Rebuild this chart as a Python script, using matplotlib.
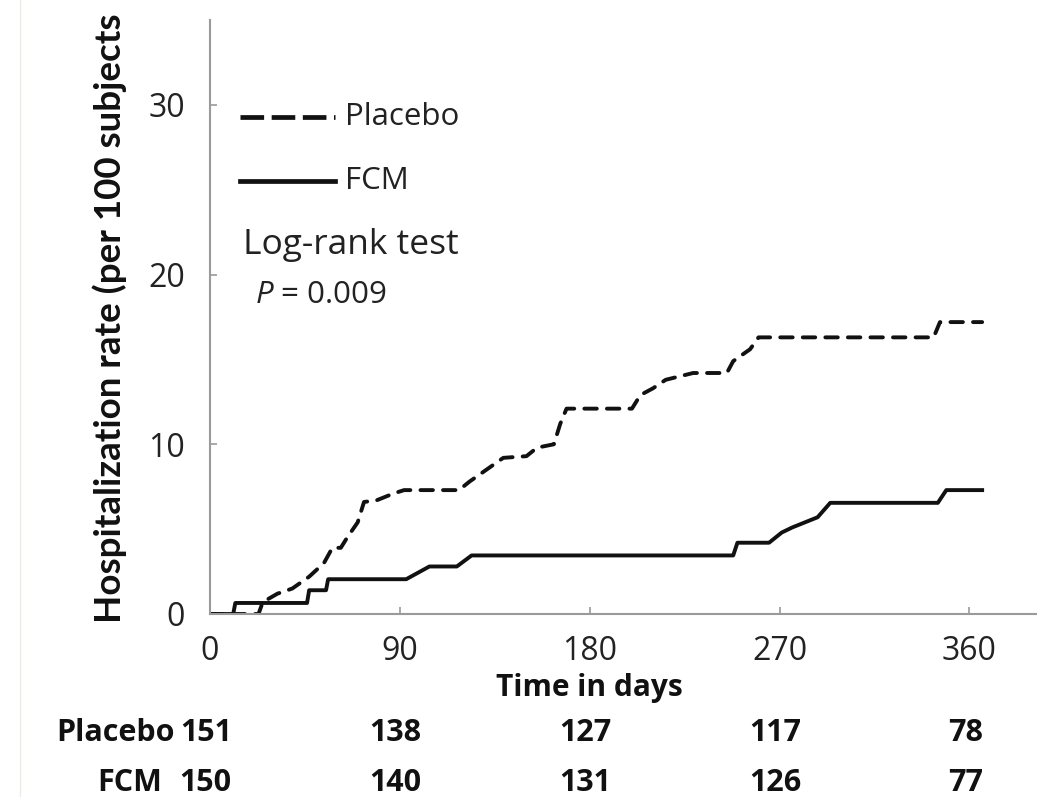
import numpy as np
import matplotlib
matplotlib.use("Agg")
import matplotlib.pyplot as plt
import matplotlib.transforms as mtransforms
from matplotlib.lines import Line2D

plt.rcParams['font.family'] = ['Open Sans', 'DejaVu Sans']
plt.rcParams['mathtext.fontset'] = 'custom'
plt.rcParams['mathtext.it'] = 'Open Sans:italic'
plt.rcParams['mathtext.rm'] = 'Open Sans'

# cumulative hospitalization rate (day, rate per 100)
placebo_days = [0, 23, 25, 32, 39, 47, 54, 58, 62, 65, 70, 73, 79, 87, 92, 118, 123, 131,
                139, 150, 155, 163, 166, 169, 200, 204, 210, 216, 229, 245, 248, 256, 260,
                343, 346, 366]
placebo_rate = [0, 0, 0.7, 1.2, 1.5, 2.2, 3.0, 3.9, 3.9, 4.5, 5.4, 6.6, 6.7, 7.1, 7.3, 7.3,
                7.8, 8.5, 9.2, 9.3, 9.8, 10.0, 11.2, 12.1, 12.1, 12.9, 13.3, 13.8, 14.2, 14.2,
                14.9, 15.6, 16.3, 16.3, 17.2, 17.2]

fcm_days = [0, 11, 12, 46, 47, 55, 56, 93, 104, 117, 124, 248, 250, 265, 271, 276, 288,
            294, 345, 349, 366]
fcm_rate = [0, 0, 0.65, 0.65, 1.4, 1.4, 2.05, 2.05, 2.8, 2.8, 3.45, 3.45, 4.2, 4.2, 4.8,
            5.1, 5.7, 6.55, 6.55, 7.3, 7.3]

x_ticks = [0, 90, 180, 270, 360]
y_ticks = [0, 10, 20, 30]
at_risk_placebo = [151, 138, 127, 117, 78]
at_risk_fcm = [150, 140, 131, 126, 77]

ink = '#111111'
txt = '#222222'
axis_grey = '#9a9a9a'

fig = plt.figure(figsize=(10.37, 7.97), dpi=100)
ax = fig.add_axes([210/1037, (797-614)/797, (1037-210)/1037, (614-20)/797])

ax.plot(placebo_days, placebo_rate, color=ink, lw=2.8, linestyle=(0, (3.2, 2.6)),
        dash_capstyle='round', solid_joinstyle='round')
ax.plot(fcm_days, fcm_rate, color=ink, lw=2.8, solid_joinstyle='round')

ax.set_xlim(0, 392)
ax.set_ylim(0, 35)
ax.set_xticks(x_ticks)
ax.set_yticks(y_ticks)
ax.tick_params(axis='both', direction='in', length=5, width=1.2, color=axis_grey,
               labelsize=23, labelcolor=txt)
ax.tick_params(axis='x', pad=15)
ax.tick_params(axis='y', pad=18)
for side in ['top', 'right']:
    ax.spines[side].set_visible(False)
for side in ['left', 'bottom']:
    ax.spines[side].set_color(axis_grey)
    ax.spines[side].set_linewidth(1.5)

# legend drawn by hand, like the original
ax.add_line(Line2D([0.036, 0.151], [0.837, 0.837], transform=ax.transAxes, color=ink,
                   lw=3.4, linestyle=(0, (5.0, 1.6))))
ax.add_line(Line2D([0.036, 0.151], [0.729, 0.729], transform=ax.transAxes, color=ink, lw=3.4))
ax.text(0.163, 0.837, 'Placebo', transform=ax.transAxes, fontsize=22.5, va='center', color=txt)
ax.text(0.163, 0.729, 'FCM', transform=ax.transAxes, fontsize=22.5, va='center', color=txt)
ax.text(0.040, 0.621, 'Log-rank test', transform=ax.transAxes, fontsize=25.5, va='center', color=txt)
ax.text(0.054, 0.537, r'$\it{P}$ = 0.009', transform=ax.transAxes, fontsize=22.5, va='center', color=txt)

# axis titles
blend = mtransforms.blended_transform_factory(ax.transData, ax.transAxes)
ax.text(180, -0.125, 'Time in days', transform=blend, ha='center', va='center',
        fontsize=21.5, fontweight='bold', color=ink)
fig.text(110/1037, 1 - 623/797, 'Hospitalization rate (per 100 subjects', rotation=90,
         ha='center', va='bottom', fontsize=26.5, fontweight='bold', color=ink,
         family=['Lato', 'DejaVu Sans'])

# number at risk table
ax.text(-16.5, -0.200, 'Placebo', transform=blend, ha='right', va='center',
        fontsize=22, fontweight='bold', color=ink)
ax.text(-22.5, -0.285, 'FCM', transform=blend, ha='right', va='center',
        fontsize=22, fontweight='bold', color=ink)
for d, n in zip(x_ticks, at_risk_placebo):
    ax.text(d - 2, -0.200, str(n), transform=blend, ha='center', va='center',
            fontsize=22, fontweight='bold', color=ink)
for d, n in zip(x_ticks, at_risk_fcm):
    ax.text(d - 2, -0.285, str(n), transform=blend, ha='center', va='center',
            fontsize=22, fontweight='bold', color=ink)

# faint frame line at the far left of the original scan
fig.add_artist(Line2D([20/1037, 20/1037], [0, 1], transform=fig.transFigure, color='#ecece6', lw=1))

fig.savefig('out.png', dpi=100, facecolor='white')
